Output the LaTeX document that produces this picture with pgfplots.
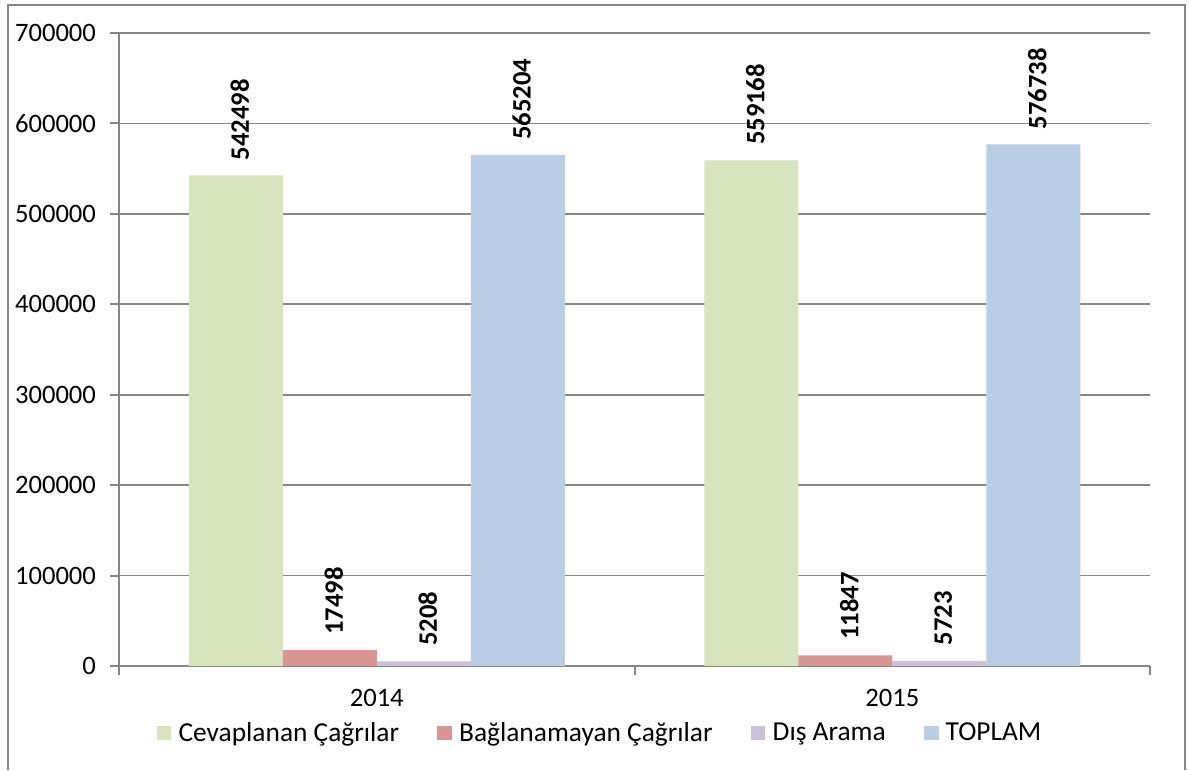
\documentclass[border=0pt]{standalone}
\usepackage{pgfplots}
\pgfplotsset{compat=1.18}
\usepackage{fontspec}
\setmainfont{Carlito}
\definecolor{cgreen}{HTML}{D7E4BD}
\definecolor{cred}{HTML}{D99694}
\definecolor{cpurple}{HTML}{CCC1DA}
\definecolor{cblue}{HTML}{B9CDE5}
\definecolor{cgrid}{HTML}{868686}
\newcommand{\fs}{\fontsize{13.3}{15}\selectfont}
\newcommand{\fl}{\fontsize{13.7}{15}\selectfont}
\begin{document}
\begin{tikzpicture}
\fill[white] (0,0) rectangle (594.5pt,385pt);
\draw[cgrid, line width=1pt] (4pt,0) -- (4pt,382.5pt) -- (592.5pt,382.5pt) -- (592.5pt,0);
\begin{axis}[
  at={(59.5pt,52pt)}, anchor=south west,
  scale only axis, width=515.5pt, height=316.5pt,
  xmin=-0.5, xmax=1.5, ymin=0, ymax=700000,
  axis x line*=bottom, axis y line*=left,
  x axis line style={-}, y axis line style={-},
  axis line style={cgrid, line width=1pt},
  xtick={0,1}, xticklabels={2014,2015},
  minor xtick={-0.5,0.5,1.5},
  major x tick style={draw=none},
  ytick distance=100000,
  tick align=outside, major tick length=4.5pt, minor tick length=4.5pt,
  tick style={cgrid, line width=1pt},
  ymajorgrids, grid style={cgrid, line width=0.8pt},
  scaled y ticks=false,
  /pgf/number format/.cd, fixed, precision=0, 1000 sep={}, assume math mode=true, /pgfplots/.cd,
  tick label style={font=\fs, text=black},
  yticklabel style={xshift=-3.5pt},
  xticklabel style={yshift=-3.5pt},
  ybar, bar width=47pt,
  nodes near coords,
  every node near coord/.append style={rotate=90, anchor=west, font=\bfseries\fs, text=black, inner sep=7.5pt, yshift=-2pt},
  legend columns=4,
  legend style={at={(0.4675,-0.106)}, anchor=center, draw=none, font=\fl,
    /tikz/every even column/.append style={column sep=17pt}},
  legend image code/.code={\fill[#1] (0pt,-3.6pt) rectangle (7.4pt,3.6pt); \path (0pt,0pt) -- (9pt,0pt);},
]
\addplot[fill=cgreen, draw=none, bar shift=-70.5pt] coordinates {(0,542498) (1,559168)};
\addplot[fill=cred, draw=none, bar shift=-23.5pt] coordinates {(0,17498) (1,11847)};
\addplot[fill=cpurple, draw=none, bar shift=23.5pt] coordinates {(0,5208) (1,5723)};
\addplot[fill=cblue, draw=none, bar shift=70.5pt] coordinates {(0,565204) (1,576738)};
\legend{Cevaplanan Çağrılar, Bağlanamayan Çağrılar, Dış Arama, TOPLAM}
\end{axis}
\end{tikzpicture}
\end{document}
